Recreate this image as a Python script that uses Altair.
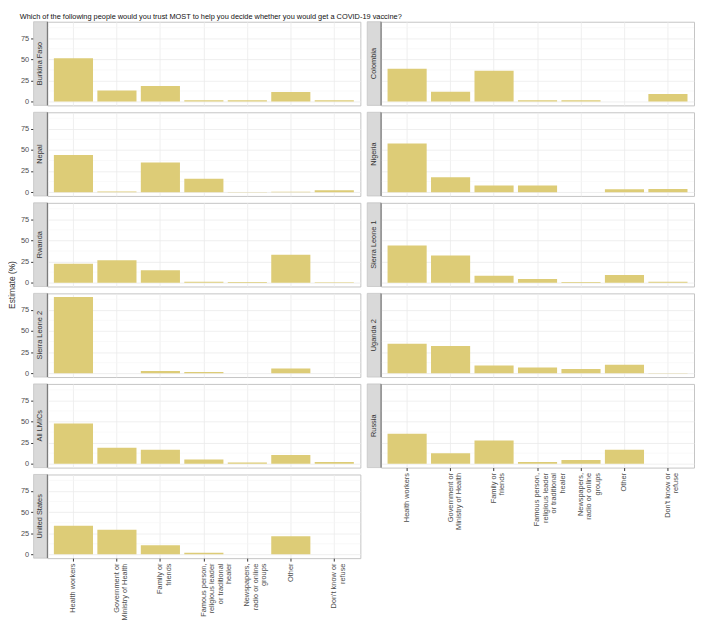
import altair as alt
import pandas as pd

TITLE = "Which of the following people would you trust MOST to help you decide whether you would get a COVID-19 vaccine?"
Y_TITLE = "Estimate (%)"
CATEGORIES = [
    "Health workers",
    "Government or\nMinistry of Health",
    "Family or\nfriends",
    "Famous person,\nreligious leader\nor traditional\nhealer",
    "Newspapers,\nradio or online\ngroups",
    "Other",
    "Don't know or\nrefuse",
]
LEFT_COUNTRIES = ["Burkina Faso", "Nepal", "Rwanda", "Sierra Leone 2", "All LMICs", "United States"]
RIGHT_COUNTRIES = ["Colombia", "Nigeria", "Sierra Leone 1", "Uganda 2", "Russia"]

burkina_faso = [51.4, 13.1, 18.4, 1.5, 1.5, 11.2, 1.5]
colombia = [39.0, 11.6, 36.4, 1.5, 1.5, 0.0, 9.0]
nepal = [43.9, 0.7, 35.2, 15.7, 0.3, 0.4, 2.2]
nigeria = [57.7, 17.6, 7.9, 7.9, 0.0, 3.4, 3.7]
rwanda = [22.5, 26.6, 14.6, 1.1, 0.7, 33.0, 0.4]
sierra_leone_1 = [43.9, 32.2, 8.2, 4.5, 0.7, 9.0, 1.1]
sierra_leone_2 = [90.2, 0.0, 2.7, 1.5, 0.0, 5.7, 0.0]
uganda_2 = [35.0, 32.3, 9.1, 6.8, 4.9, 9.9, 0.4]
all_lmics = [47.6, 19.1, 16.5, 5.2, 1.5, 10.5, 2.2]
russia = [35.6, 12.4, 27.7, 2.2, 4.5, 16.5, 0.0]
united_states = [33.7, 29.2, 10.9, 1.9, 0.0, 21.4, 0.2]

VALUES = {
    "Burkina Faso": burkina_faso,
    "Colombia": colombia,
    "Nepal": nepal,
    "Nigeria": nigeria,
    "Rwanda": rwanda,
    "Sierra Leone 1": sierra_leone_1,
    "Sierra Leone 2": sierra_leone_2,
    "Uganda 2": uganda_2,
    "All LMICs": all_lmics,
    "Russia": russia,
    "United States": united_states,
}

Y_TICKS = [0, 25, 50, 75]
Y_MINOR = [12.5, 37.5, 62.5, 87.5]
Y_DOMAIN = [-4.5, 94.5]

rows = []
for country, vals in VALUES.items():
    for cat, v in zip(CATEGORIES, vals):
        rows.append({"country": country, "category": cat, "estimate": v})
df = pd.DataFrame(rows)
minor_df = pd.DataFrame({"v": Y_MINOR})

W = 318
H = 85
STRIP = 14
FONT = "Liberation Sans"
BAR_COLOR = "#DDCC77"
GRID = "#EBEBEB"
MINOR = "#F4F4F4"

x_scale = alt.Scale(domain=CATEGORIES, paddingInner=0.1, paddingOuter=0.15)
y_scale = alt.Scale(domain=Y_DOMAIN, nice=False, zero=True)


def make_x_axis(show):
    if show:
        return alt.Axis(
            labelAngle=270, labelAlign="right", labelBaseline="middle",
            labelFontSize=7.5, labelColor="#4D4D4D", labelLineHeight=8.5,
            labelExpr="split(datum.label, '\\n')", labelPadding=2, labelLimit=0,
            tickSize=3, tickColor="#333333", domain=False,
            grid=True, gridColor=GRID, gridWidth=0.8, title=None,
        )
    return alt.Axis(labels=False, ticks=False, domain=False, grid=True,
                    gridColor=GRID, gridWidth=0.8, title=None)


def make_y_axis(show):
    if show:
        return alt.Axis(
            values=Y_TICKS, offset=STRIP, labelFontSize=7.5, labelColor="#4D4D4D",
            labelPadding=2, tickSize=3, tickColor="#333333", domain=False,
            grid=True, gridColor=GRID, gridWidth=0.8, title=None,
        )
    return alt.Axis(values=Y_TICKS, labels=False, ticks=False, domain=False,
                    grid=True, gridColor=GRID, gridWidth=0.8, title=None)


def panel(country, show_y, show_x):
    xa = make_x_axis(show_x)
    ya = make_y_axis(show_y)
    minor = alt.Chart(minor_df).mark_rule(color=MINOR, strokeWidth=0.6).encode(
        y=alt.Y("v:Q", scale=y_scale, axis=ya)
    )
    bars = alt.Chart(df).transform_filter(alt.datum.country == country).mark_bar(
        color=BAR_COLOR
    ).encode(
        x=alt.X("category:N", scale=x_scale, axis=xa, sort=CATEGORIES),
        y=alt.Y("estimate:Q", scale=y_scale, axis=ya),
    )
    strip_df = pd.DataFrame({"country": [country]})
    strip = alt.Chart(strip_df).mark_rect(
        fill="#D9D9D9", stroke="#C4C4C4", strokeWidth=0.8
    ).encode(x=alt.value(-STRIP), x2=alt.value(0), y=alt.value(0), y2=alt.value(H))
    label = alt.Chart(strip_df).mark_text(
        angle=270, fontSize=7.5, color="#333333", font=FONT
    ).encode(text="country:N", x=alt.value(-STRIP / 2), y=alt.value(H / 2))
    edge = alt.Chart(strip_df).mark_rule(color="#555555", strokeWidth=0.8).encode(
        x=alt.value(0), y=alt.value(0), y2=alt.value(H)
    )
    return alt.layer(minor, bars, strip, label, edge).properties(width=W, height=H)


left = alt.vconcat(
    *[panel(c, True, i == len(LEFT_COUNTRIES) - 1) for i, c in enumerate(LEFT_COUNTRIES)],
    spacing=5,
)
right = alt.vconcat(
    *[panel(c, False, i == len(RIGHT_COUNTRIES) - 1) for i, c in enumerate(RIGHT_COUNTRIES)],
    spacing=5,
)
cols = alt.hconcat(left, right, spacing=5)

total_h = len(LEFT_COUNTRIES) * H + (len(LEFT_COUNTRIES) - 1) * 5
ytitle = alt.Chart(pd.DataFrame({"t": [Y_TITLE]})).mark_text(
    angle=270, fontSize=8.5, color="#333333", font=FONT
).encode(text="t:N", x=alt.value(2), y=alt.value(total_h / 2)).properties(
    width=4, height=total_h, view=alt.ViewBackground(strokeOpacity=0)
)

chart = alt.hconcat(ytitle, cols, spacing=3).properties(
    title=alt.TitleParams(
        TITLE, anchor="start", fontSize=7.5, fontWeight="normal",
        color="#111111", font=FONT, offset=0, dx=12,
    ),
    padding=0,
).configure(font=FONT).configure_view(stroke="#C4C4C4", strokeWidth=1)

chart.save("out.html", embed_options={"renderer": "svg", "actions": False})
